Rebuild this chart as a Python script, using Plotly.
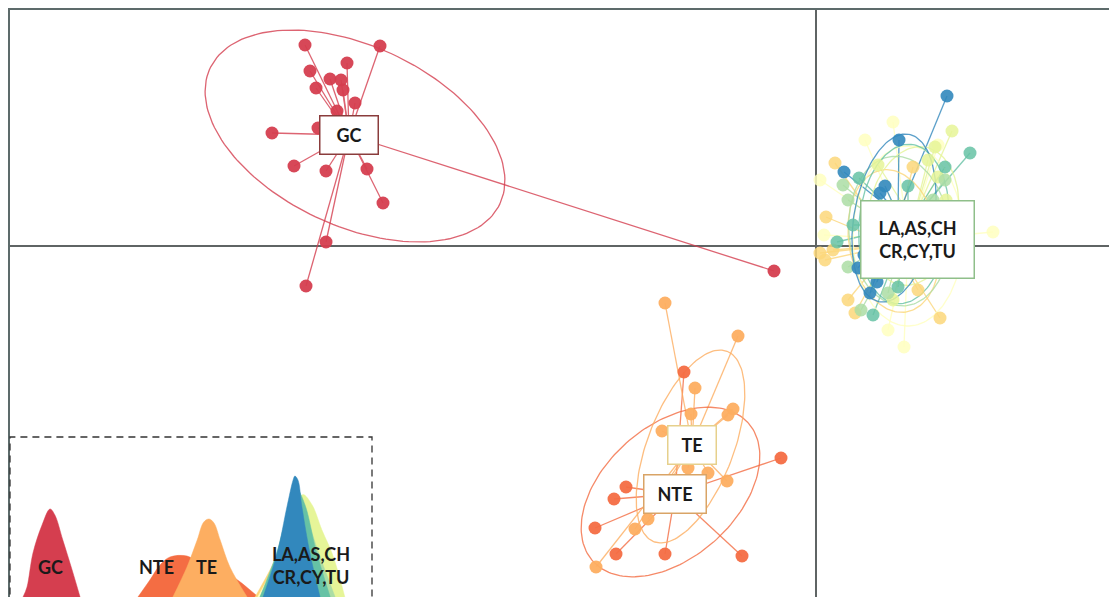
import numpy as np
import plotly.graph_objects as go

# ---------------- data (discriminant functions LD1 / LD2) ----------------
groups = ["GC", "NTE", "TE", "LA", "AS", "CH", "CR", "CY", "TU"]
group_colors = ["#d53e4f", "#f46d43", "#fdae61", "#fcd77a", "#ffffbf",
                "#e6f598", "#abdda4", "#66c2a5", "#3288bd"]
group_opacity = [0.95, 0.95, 0.95, 0.85, 0.85, 0.85, 0.85, 0.85, 0.9]

gc_ld1 = [-5.11, -4.36, -4.69, -5.06, -4.86, -4.75, -5.00, -4.73, -4.61, -4.79,
          -4.98, -5.44, -5.22, -4.90, -4.49, -4.33, -4.90, -5.10, -0.42]
gc_ld2 = [2.01, 2.00, 1.83, 1.75, 1.67, 1.66, 1.58, 1.56, 1.43, 1.35,
          1.18, 1.13, 0.80, 0.75, 0.77, 0.43, 0.04, -0.40, -0.25]

nte_ld1 = [-1.32, -0.35, -1.90, -2.02, -2.21, -2.00, -1.51, -0.74]
nte_ld2 = [-1.26, -2.12, -2.41, -2.53, -2.82, -3.08, -3.08, -3.10]

te_ld1 = [-1.51, -0.78, -1.21, -1.25, -0.83, -0.88, -1.54, -0.89, -1.08, -1.68, -1.81, -2.20, -1.28]
te_ld2 = [-0.57, -0.90, -1.42, -1.68, -1.63, -1.69, -1.85, -2.35, -2.27, -2.73, -2.83, -3.21, -2.22]

la_ld1 = [0.19, 0.10, 0.09, 0.32, 0.39, 1.24, 0.97, 0.04, 0.17, 1.02]
la_ld2 = [0.83, 0.29, -0.14, -0.54, -0.67, -0.72, 0.79, -0.07, -0.04, -0.44]

as_ld1 = [1.77, 0.88, 0.49, 0.77, 0.04, 0.08, 1.32, 0.72, 1.22]
as_ld2 = [0.14, -1.01, 1.06, 1.24, 0.66, 0.11, -0.04, -0.84, 1.01]

ch_ld1 = [1.36, 1.19, 1.22, 1.09, 1.12, 1.30, 0.77, 0.62]
ch_ld2 = [1.15, 0.99, 0.69, -0.21, 0.86, 0.46, -0.54, 0.81]

cr_ld1 = [0.32, 1.29, 0.45, 0.72, 0.32, 1.17, 0.27]
cr_ld2 = [0.46, 0.66, -0.64, -0.47, -0.21, 0.46, 0.61]

cy_ld1 = [1.54, 0.43, 0.21, 0.57, 0.92, 1.29, 0.82, 0.37]
cy_ld2 = [0.93, 0.68, 0.04, -0.69, 0.60, 0.79, -0.41, 0.21]

tu_ld1 = [1.31, 0.83, 0.28, 0.64, 0.69, 0.42, 0.54, 0.61, 0.48, 0.57]
tu_ld2 = [1.50, 1.06, 0.74, 0.53, 0.60, -0.22, -0.47, -0.36, -0.09, 0.36]

# group centroids (same order as groups)
centroid_ld1 = [-4.67, -1.41, -1.24, 0.77, 0.92, 0.97, 0.87, 0.92, 0.82]
centroid_ld2 = [1.11, -2.48, -1.99, 0.01, 0.06, 0.26, 0.11, 0.21, 0.31]

# inertia ellipses: centre, semi-axes, rotation (deg)
ell_cx = [-4.61, -1.455, -1.255, 0.78, 0.92, 0.97, 0.83, 0.88, 0.78]
ell_cy = [1.10, -2.46, -2.005, 0.05, 0.10, 0.30, 0.15, 0.22, 0.28]
ell_a = [1.60, 1.04, 1.02, 0.72, 0.90, 0.70, 0.75, 0.80, 0.85]
ell_b = [0.90, 0.66, 0.43, 0.45, 0.55, 0.45, 0.50, 0.45, 0.40]
ell_angle = [-25, 41.5, 69, 100, 90, 80, 95, 85, 80]

# inset: densities of LD1 per group
gc_dens_x = [-5.28, -5.19, -5.055, -4.85, -4.67, -4.56, -4.38, -4.17, -3.99]
gc_dens_y = [0, 0.0625, 0.275, 0.45, 0.55, 0.5125, 0.356, 0.169, 0]
nte_dens_x = [-2.68, -2.41, -2.18, -1.955, -1.57, -1.34, -0.94, -0.53, -0.145, 0.04]
nte_dens_y = [0, 0.106, 0.2, 0.25, 0.256, 0.219, 0.169, 0.125, 0.044, 0]
te_dens_x = [-1.89, -1.57, -1.34, -1.19, -1.07, -0.96, -0.82, -0.60, -0.21]
te_dens_y = [0, 0.1875, 0.356, 0.469, 0.4875, 0.4625, 0.356, 0.1875, 0]
la_dens_x = [-0.03, 0.31, 0.65, 0.99, 1.33, 1.67, 1.89]
la_dens_y = [0, 0.17, 0.36, 0.45, 0.36, 0.17, 0]
as_dens_x = [0.03, 0.53, 0.99, 1.44, 1.96]
as_dens_y = [0, 0.23, 0.36, 0.26, 0]
ch_dens_x = [0.13, 0.53, 0.87, 1.05, 1.26, 1.48, 1.73, 2.00]
ch_dens_y = [0, 0.23, 0.51, 0.64, 0.575, 0.42, 0.26, 0]
cr_dens_x = [0.08, 0.49, 0.81, 0.94, 1.12, 1.39, 1.78]
cr_dens_y = [0, 0.26, 0.54, 0.61, 0.51, 0.29, 0]
cy_dens_x = [0.08, 0.44, 0.76, 0.92, 1.10, 1.35, 1.67]
cy_dens_y = [0, 0.26, 0.575, 0.67, 0.575, 0.29, 0]
tu_dens_x = [0.15, 0.47, 0.69, 0.83, 0.87, 0.94, 1.03, 1.21, 1.44]
tu_dens_y = [0, 0.275, 0.5625, 0.731, 0.756, 0.731, 0.5625, 0.275, 0]

points = [(gc_ld1, gc_ld2), (nte_ld1, nte_ld2), (te_ld1, te_ld2), (la_ld1, la_ld2),
          (as_ld1, as_ld2), (ch_ld1, ch_ld2), (cr_ld1, cr_ld2), (cy_ld1, cy_ld2),
          (tu_ld1, tu_ld2)]
densities = [(gc_dens_x, gc_dens_y), (nte_dens_x, nte_dens_y), (te_dens_x, te_dens_y),
             (la_dens_x, la_dens_y), (as_dens_x, as_dens_y), (ch_dens_x, ch_dens_y),
             (cr_dens_x, cr_dens_y), (cy_dens_x, cy_dens_y), (tu_dens_x, tu_dens_y)]

# label boxes
label_text = ["GC", "NTE", "TE", "LA,AS,CH<br>CR,CY,TU"]
label_ld1 = [-4.67, -1.41, -1.24, 1.01]
label_ld2 = [1.11, -2.48, -1.99, 0.07]
label_border = ["#8a3c3c", "#d9a466", "#e6d08c", "#8fbf8a"]
label_w = [45, 49, 35, 100]
label_h = [25, 25, 25, 64]

inset_text = ["GC", "NTE", "TE", "LA,AS,CH<br>CR,CY,TU"]
inset_x = [-4.67, -2.25, -1.12, 1.24]
inset_y = [0.1875, 0.1875, 0.1875, 0.197]

# ---------------- figure ----------------
FONT = "Lato, 'Open Sans', sans-serif"
fig = go.Figure()


def ellipse_xy(cx, cy, a, b, ang, n=160):
    t = np.linspace(0, 2 * np.pi, n)
    th = np.radians(ang)
    x = cx + a * np.cos(t) * np.cos(th) - b * np.sin(t) * np.sin(th)
    y = cy + a * np.cos(t) * np.sin(th) + b * np.sin(t) * np.cos(th)
    return x, y


# segments centroid -> point
for i, g in enumerate(groups):
    xs, ys = points[i]
    sx, sy = [], []
    for x, y in zip(xs, ys):
        sx += [centroid_ld1[i], x, None]
        sy += [centroid_ld2[i], y, None]
    fig.add_trace(go.Scatter(x=sx, y=sy, mode="lines", xaxis="x", yaxis="y",
                             line=dict(color=group_colors[i], width=1.3),
                             opacity=0.8, hoverinfo="skip", showlegend=False))

# ellipses
for i, g in enumerate(groups):
    ex, ey = ellipse_xy(ell_cx[i], ell_cy[i], ell_a[i], ell_b[i], ell_angle[i])
    fig.add_trace(go.Scatter(x=ex, y=ey, mode="lines", xaxis="x", yaxis="y",
                             line=dict(color=group_colors[i], width=1.3),
                             opacity=0.8, hoverinfo="skip", showlegend=False))

# points
for i, g in enumerate(groups):
    xs, ys = points[i]
    fig.add_trace(go.Scatter(x=xs, y=ys, mode="markers", name=g, xaxis="x", yaxis="y",
                             marker=dict(color=group_colors[i], size=13,
                                         opacity=group_opacity[i], line=dict(width=0)),
                             showlegend=False))

# inset densities
for i, g in enumerate(groups):
    dx, dy = densities[i]
    fig.add_trace(go.Scatter(x=dx, y=dy, mode="lines", xaxis="x2", yaxis="y2",
                             line=dict(color=group_colors[i], width=0.5, shape="spline"),
                             fill="tozeroy", fillcolor=group_colors[i], opacity=0.9,
                             hoverinfo="skip", showlegend=False))

annotations = []
for i, t in enumerate(label_text):
    annotations.append(dict(
        x=label_ld1[i], y=label_ld2[i], xref="x", yref="y", text="<b>" + t + "</b>",
        showarrow=False, font=dict(family=FONT, size=18, color="#1a1a1a"),
        bgcolor="white", bordercolor=label_border[i], borderwidth=1.5, borderpad=6,
        width=label_w[i], height=label_h[i], align="center", valign="middle"))
for i, t in enumerate(inset_text):
    annotations.append(dict(
        x=inset_x[i], y=inset_y[i], xref="x2", yref="y2", text="<b>" + t + "</b>",
        showarrow=False, font=dict(family=FONT, size=18, color="#1a1a1a"),
        align="center"))

# page geometry: the html body has an 8px margin
PAGE = 8
L, T = 2, 2
W, H = 1117 - PAGE, 597 - PAGE
left_px, top_px = PAGE + L, PAGE + T          # page position of the plot area
pw, ph = W - L, H - T
inset_left, inset_right, inset_top = 10, 372, 437
ix0 = max(0.0, (inset_left - left_px) / pw)
ix1 = (inset_right - left_px) / pw
iy1 = (597 - inset_top) / ph

fig.update_layout(
    width=W, height=H,
    margin=dict(l=L, r=0, t=T, b=0),
    paper_bgcolor="white", plot_bgcolor="white",
    annotations=annotations,
    xaxis=dict(range=[-8.06, 3.01], domain=[0, 1], anchor="y", side="top",
               showgrid=False, showticklabels=False, ticks="",
               zeroline=True, zerolinecolor="#5f6464", zerolinewidth=2,
               showline=True, linecolor="#5d6b6b", linewidth=2),
    yaxis=dict(range=[-3.51, 2.36], domain=[0, 1], anchor="x",
               showgrid=False, showticklabels=False, ticks="",
               zeroline=True, zerolinecolor="#5f6464", zerolinewidth=2,
               showline=True, linecolor="#5d6b6b", linewidth=2),
    xaxis2=dict(range=[-5.575, 2.615], domain=[ix0, ix1], anchor="y2",
                showgrid=False, showticklabels=False, ticks="", zeroline=False,
                showline=False),
    yaxis2=dict(range=[0, 1], domain=[0, iy1], anchor="x2",
                showgrid=False, showticklabels=False, ticks="", zeroline=False,
                showline=False),
    shapes=[dict(type="rect", xref="paper", yref="paper", x0=ix0, x1=ix1,
                 y0=-0.2, y1=iy1, line=dict(color="#333333", width=1.3, dash="7px,5px"),
                 fillcolor="rgba(0,0,0,0)")],
)

fig.write_html("out.html")
